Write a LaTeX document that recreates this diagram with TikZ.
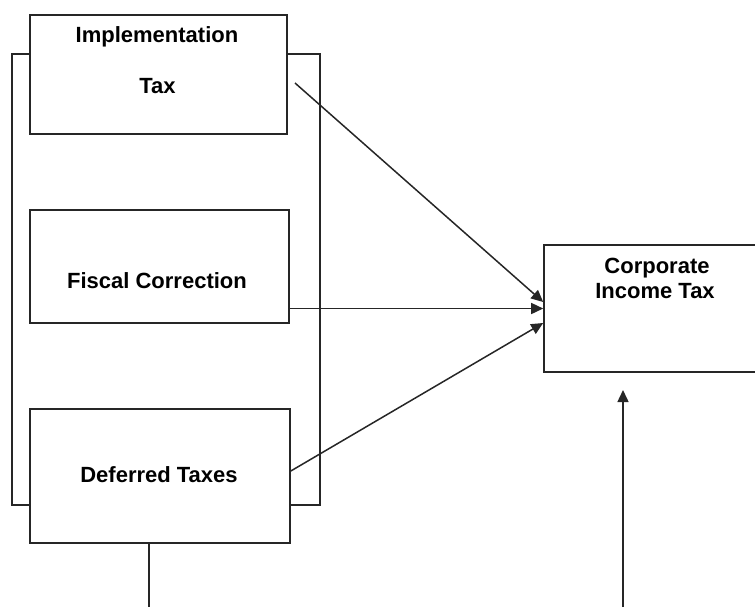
\documentclass[tikz,border=0pt]{standalone}
\usepackage{fontspec}
\setmainfont{Liberation Sans}
\usetikzlibrary{arrows.meta}

\tikzset{
  box/.style={draw=black!85, line width=0.8pt, fill=white, inner sep=0pt},
  lbl/.style={font=\fontsize{11}{13}\selectfont\bfseries, anchor=base, inner sep=0pt},
  link/.style={draw=black!85, line width=0.75pt},
  arr/.style={link, -{Triangle[length=6pt,width=5.5pt]}}
}

\begin{document}
\begin{tikzpicture}[x=0.5pt, y=-0.5pt]
  \clip (0,0) rectangle (755,607);

  % Bracket behind the three left boxes
  \node[box, minimum width=154pt, minimum height=225.5pt] (group) at (166,279.5) {};

  % Left boxes
  \node[box, minimum width=128.5pt, minimum height=59.5pt] (impl) at (158.5,74.5) {};
  \node[box, minimum width=129.5pt, minimum height=56.5pt] (fiscal) at (159.5,266.5) {};
  \node[box, minimum width=130pt, minimum height=67pt] (defer) at (160,476) {};

  % Right box (runs past the edge)
  \node[box, minimum width=112pt, minimum height=63.5pt] (corp) at (656,308.5) {};

  % Texts
  \node[lbl] (impl1) at (157,42) {Implementation};
  \node[lbl] (impl2) at (157.5,93) {Tax};
  \node[lbl] (fiscaltxt) at (157,288) {Fiscal Correction};
  \node[lbl] (defertxt) at (159,482) {Deferred Taxes};
  \node[lbl] (corp1) at (657,273) {Corporate};
  \node[lbl] (corp2) at (655,298) {Income Tax};

  % Arrows into corporate income tax
  \coordinate (a1) at (295,83);
  \draw[arr] (a1) -- ([yshift=3.25pt]corp.west);
  \draw[arr] (fiscal.east |- corp.west) -- (corp.west);
  \draw[arr] ([yshift=2.5pt]defer.east) -- ([yshift=-7.25pt]corp.west);

  % Lines at the bottom
  \coordinate (dbot) at (149,607);
  \draw[link] (dbot |- defer.south) -- (dbot);
  \coordinate (ubot) at (623,607);
  \coordinate (utop) at (623,390);
  \draw[arr] (ubot) -- (utop);
\end{tikzpicture}
\end{document}
